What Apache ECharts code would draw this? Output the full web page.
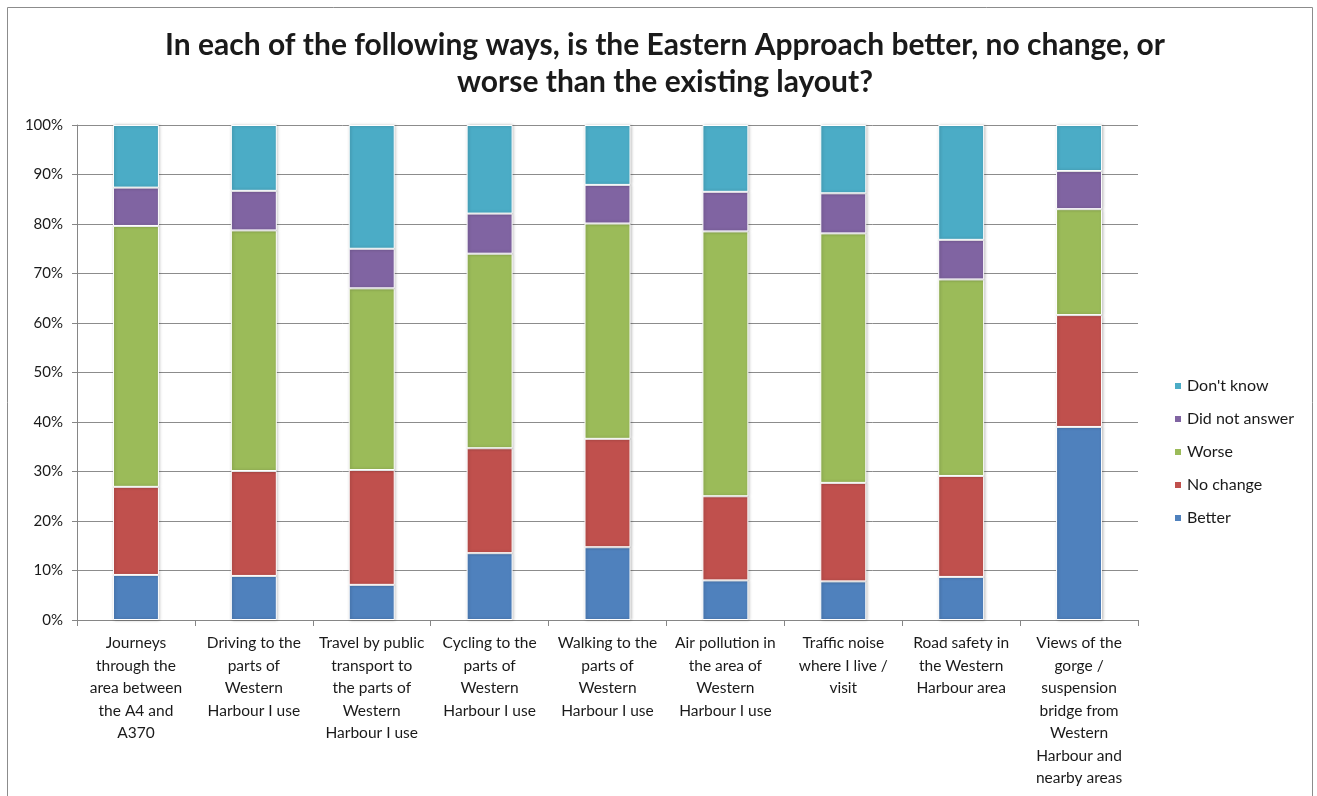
<!DOCTYPE html>
<html>
<head>
<meta charset="utf-8">
<script src="https://cdn.jsdelivr.net/npm/echarts@6/dist/echarts.min.js"></script>
<style>
html,body{margin:0;padding:0;background:#fff;}
#c{width:1317px;height:796px;}
</style>
</head>
<body>
<div id="c"></div>
<script>
const categories = [
  "Journeys\nthrough the\narea between\nthe A4 and\nA370",
  "Driving to the\nparts of\nWestern\nHarbour I use",
  "Travel by public\ntransport to\nthe parts of\nWestern\nHarbour I use",
  "Cycling to the\nparts of\nWestern\nHarbour I use",
  "Walking to the\nparts of\nWestern\nHarbour I use",
  "Air pollution in\nthe area of\nWestern\nHarbour I use",
  "Traffic noise\nwhere I live /\nvisit",
  "Road safety in\nthe Western\nHarbour area",
  "Views of the\ngorge /\nsuspension\nbridge from\nWestern\nHarbour and\nnearby areas"
];
const better     = [9.1, 8.9, 7.1, 13.5, 14.7, 8.0, 7.8, 8.7, 39.0];
const noChange   = [17.8, 21.2, 23.2, 21.2, 21.9, 17.0, 19.9, 20.4, 22.6];
const worse      = [52.7, 48.6, 36.7, 39.3, 43.5, 53.5, 50.4, 39.7, 21.4];
const didNotAnswer = [7.75, 8.0, 8.0, 8.1, 7.8, 8.0, 8.1, 8.0, 7.7];
const dontKnow   = [12.65, 13.3, 25.0, 17.9, 12.1, 13.5, 13.8, 23.2, 9.3];
const yTicks = [0, 10, 20, 30, 40, 50, 60, 70, 80, 90, 100];

const FONT = "Lato, 'Open Sans', sans-serif";
const chart = echarts.init(document.getElementById('c'));

function mk(name, data, color) {
  return {
    name: name, type: 'bar', stack: 'total', data: data, barWidth: '39%',
    itemStyle: { color: color, borderColor: '#ffffff', borderWidth: 1,
      shadowBlur: 3, shadowColor: 'rgba(0,0,0,0.25)', shadowOffsetX: 1, shadowOffsetY: 0 }
  };
}

chart.setOption({
  animation: false,
  backgroundColor: '#ffffff',
  title: {
    text: 'In each of the following ways, is the Eastern Approach better, no change, or\nworse than the existing layout?',
    left: 660, top: 22, textAlign: 'center',
    textStyle: { fontFamily: FONT, fontWeight: 'bold', fontSize: 30, lineHeight: 37, color: '#1a1a1a' }
  },
  graphic: [{
    type: 'rect', shape: { x: 7.5, y: 7.5, width: 1305, height: 800 },
    style: { fill: 'none', stroke: '#8c8c8c', lineWidth: 1 }, silent: true, z: -1
  }],
  legend: {
    orient: 'vertical', left: 1168, top: 372,
    itemWidth: 8, itemHeight: 8, itemGap: 15,
    icon: 'rect',
    data: ["Don't know", 'Did not answer', 'Worse', 'No change', 'Better'],
    textStyle: { fontFamily: FONT, fontSize: 16, lineHeight: 18, color: '#1a1a1a' }
  },
  grid: { left: 77, right: 179, top: 125, bottom: 176, containLabel: false },
  xAxis: {
    type: 'category', data: categories,
    axisLine: { lineStyle: { color: '#868686' } },
    axisTick: { show: true, alignWithLabel: false, length: 6, lineStyle: { color: '#868686' } },
    axisLabel: { interval: 0, margin: 12, fontFamily: FONT, fontSize: 15.5, lineHeight: 22.5, color: '#1a1a1a' }
  },
  yAxis: {
    type: 'value', min: 0, max: 100, interval: 10,
    axisLine: { show: true, lineStyle: { color: '#868686' } },
    axisTick: { show: true, length: 5, lineStyle: { color: '#868686' } },
    splitLine: { lineStyle: { color: '#8c8c8c' } },
    axisLabel: { margin: 14, fontFamily: FONT, fontSize: 15, color: '#1a1a1a',
      formatter: function (v) { return yTicks.indexOf(v) >= 0 ? v + '%' : ''; } }
  },
  series: [
    mk('Better', better, '#4F81BD'),
    mk('No change', noChange, '#C0504D'),
    mk('Worse', worse, '#9BBB59'),
    mk('Did not answer', didNotAnswer, '#8064A2'),
    mk("Don't know", dontKnow, '#4BACC6')
  ]
});
</script>
</body>
</html>
